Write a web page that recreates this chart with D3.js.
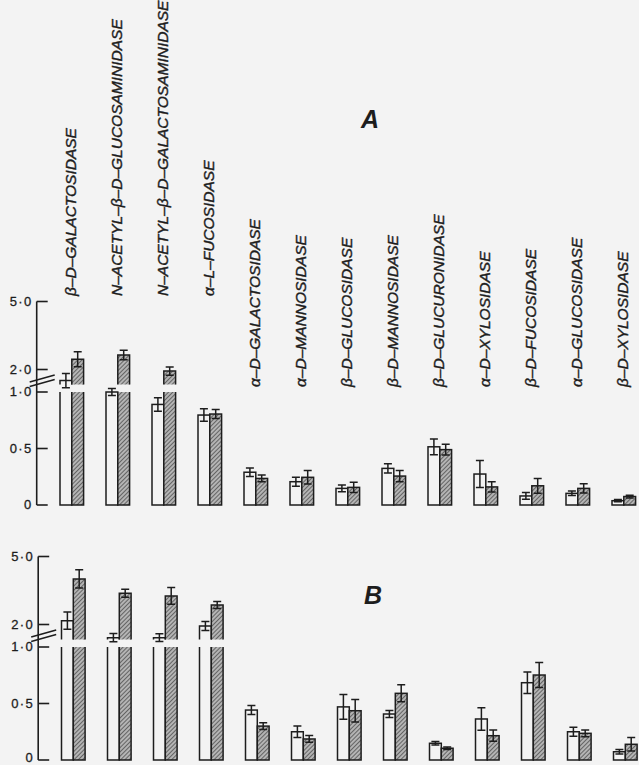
<!DOCTYPE html>
<html>
<head>
<meta charset="utf-8">
<script src="https://cdn.jsdelivr.net/npm/d3@7"></script>
<style>
  body { margin: 0; background: #f3f3f3; }
  svg { display: block; }
</style>
</head>
<body>
<svg id="chart" width="639" height="765"></svg>
<script>
// Glycosidase activities: open bars = control, hatched bars = treated
const enzymes = [
  "β–D–GALACTOSIDASE",
  "N–ACETYL–β–D–GLUCOSAMINIDASE",
  "N–ACETYL–β–D–GALACTOSAMINIDASE",
  "α–L–FUCOSIDASE",
  "α–D–GALACTOSIDASE",
  "α–D–MANNOSIDASE",
  "β–D–GLUCOSIDASE",
  "β–D–MANNOSIDASE",
  "β–D–GLUCURONIDASE",
  "α–D–XYLOSIDASE",
  "β–D–FUCOSIDASE",
  "α–D–GLUCOSIDASE",
  "β–D–XYLOSIDASE"
];

const controlA     = [1.51, 1.00, 0.89, 0.796, 0.29, 0.206, 0.147, 0.324, 0.515, 0.274, 0.08, 0.103, 0.038];
const controlErrA  = [0.31, 0.03, 0.06, 0.055, 0.037, 0.04, 0.03, 0.04, 0.07, 0.12, 0.03, 0.02, 0.01];
const treatedA     = [2.45, 2.64, 1.93, 0.805, 0.235, 0.245, 0.156, 0.256, 0.49, 0.16, 0.17, 0.147, 0.075];
const treatedErrA  = [0.33, 0.21, 0.18, 0.04, 0.03, 0.06, 0.045, 0.05, 0.048, 0.045, 0.065, 0.04, 0.012];

const controlB     = [2.17, 1.42, 1.42, 1.93, 0.442, 0.25, 0.47, 0.407, 0.148, 0.363, 0.684, 0.25, 0.073];
const controlErrB  = [0.38, 0.18, 0.17, 0.2, 0.04, 0.05, 0.11, 0.03, 0.015, 0.1, 0.095, 0.04, 0.02];
const treatedB     = [4.01, 3.38, 3.26, 2.86, 0.30, 0.186, 0.436, 0.59, 0.104, 0.215, 0.752, 0.236, 0.139];
const treatedErrB  = [0.4, 0.18, 0.37, 0.15, 0.03, 0.03, 0.1, 0.075, 0.012, 0.05, 0.11, 0.03, 0.06];

const lowerTicks = [0, 0.5, 1.0];
const upperTicks = [2.0, 5.0];
const tickText = v => v === 0 ? "0" : d3.format(".1f")(v).replace(".", "·");

const panelNames = ["A", "B"];

const ink = "#1d1d1d";
const svg = d3.select("#chart");
const H = +svg.attr("height");

// hatch pattern for treated bars
const defs = svg.append("defs");
const pat = defs.append("pattern")
  .attr("id", "hatch")
  .attr("patternUnits", "userSpaceOnUse")
  .attr("width", 3).attr("height", 3)
  .attr("patternTransform", "rotate(45)");
pat.append("rect").attr("width", 3).attr("height", 3).attr("fill", "#b4b4b4");
pat.append("line").attr("x1", 0).attr("y1", 0).attr("x2", 0).attr("y2", 3)
  .attr("stroke", "#2e2e2e").attr("stroke-width", 1.2);

const x = d3.scaleBand()
  .domain(enzymes)
  .range([60, 60 + 12 * 46 + 23.6])
  .paddingInner(0.487)
  .paddingOuter(0);
const xs = d3.scaleBand().domain(["control", "treated"]).range([0, x.bandwidth()]);

const panels = [
  { name: panelNames[0], base: 505, dx: 0, series: [
      { key: "control", vals: controlA, errs: controlErrA },
      { key: "treated", vals: treatedA, errs: treatedErrA } ],
    letter: [361, 128] },
  { name: panelNames[1], base: 760, dx: 1.5, series: [
      { key: "control", vals: controlB, errs: controlErrB },
      { key: "treated", vals: treatedB, errs: treatedErrB } ],
    letter: [364, 604] }
];

panels.forEach(p => {
  const g = svg.append("g").attr("transform", `translate(${p.dx},0)`);
  const yLow = d3.scaleLinear().domain([0, 1]).range([p.base, p.base - 113]);
  const y2 = p.base - 113 - 22.5;
  const yHigh = d3.scaleLinear().domain([2, 5]).range([y2, y2 - 68]);
  const breakTop = yLow(1);          // top of lower segment
  const breakBot = yLow(1) - 7.5;    // bottom of upper segment
  const axisX = 36.7;

  // axis line
  g.append("line")
    .attr("x1", axisX).attr("x2", axisX)
    .attr("y1", yHigh(5)).attr("y2", p.base)
    .attr("stroke", ink).attr("stroke-width", 1.6);

  // ticks
  const tickData = lowerTicks.map(v => ({ v, y: yLow(v) }))
    .concat(upperTicks.map(v => ({ v, y: yHigh(v) })));
  g.selectAll(".tick").data(tickData).join("line")
    .attr("x1", axisX).attr("x2", axisX + 11)
    .attr("y1", d => d.y).attr("y2", d => d.y)
    .attr("stroke", ink).attr("stroke-width", 1.6);
  g.selectAll(".tlab").data(tickData).join("text")
    .attr("x", axisX - 4)
    .attr("y", d => Math.min(d.y + 4, H - 3))
    .attr("text-anchor", "end")
    .attr("font-family", "Liberation Sans, Arial, sans-serif")
    .attr("font-size", 13)
    .attr("letter-spacing", 1.4)
    .attr("fill", ink)
    .attr("stroke", ink).attr("stroke-width", 0.3)
    .text(d => tickText(d.v));

  // axis break marks
  const c = breakTop - 12;
  [0, 4.5].forEach(off => {
    g.append("line")
      .attr("x1", axisX - 7).attr("y1", c + 2 + off)
      .attr("x2", axisX + 18).attr("y2", c - 5 + off)
      .attr("stroke", ink).attr("stroke-width", 1.5);
  });

  // bars
  p.series.forEach(s => {
    const fill = s.key === "treated" ? "url(#hatch)" : "none";
    enzymes.forEach((e, i) => {
      const v = s.vals[i], err = s.errs[i];
      const x0 = x(e) + xs(s.key), w = xs.bandwidth();
      const x1 = x0 + w;
      if (v <= 1) {
        g.append("rect")
          .attr("x", x0).attr("y", yLow(v))
          .attr("width", w).attr("height", p.base - yLow(v))
          .attr("fill", fill).attr("stroke", ink).attr("stroke-width", 1.5);
      } else {
        // lower piece (open at the break)
        g.append("rect")
          .attr("x", x0).attr("y", breakTop)
          .attr("width", w).attr("height", p.base - breakTop)
          .attr("fill", fill).attr("stroke", "none");
        g.append("path")
          .attr("d", `M${x0},${breakTop}V${p.base}H${x1}V${breakTop}`)
          .attr("fill", "none").attr("stroke", ink).attr("stroke-width", 1.5);
        // upper piece (open at the break)
        const yt = yHigh(v);
        g.append("rect")
          .attr("x", x0).attr("y", yt)
          .attr("width", w).attr("height", Math.max(0, breakBot - yt))
          .attr("fill", fill).attr("stroke", "none");
        g.append("path")
          .attr("d", `M${x0},${breakBot}V${yt}H${x1}V${breakBot}`)
          .attr("fill", "none").attr("stroke", ink).attr("stroke-width", 1.5);
      }
      // error bar
      const ys = v <= 1 ? yLow : yHigh;
      const cx = x0 + w / 2;
      const ya = ys(v + err), yb = ys(Math.max(0, v - err));
      g.append("path")
        .attr("d", `M${cx},${ya}V${yb}M${cx - 4},${ya}H${cx + 4}M${cx - 4},${yb}H${cx + 4}`)
        .attr("fill", "none").attr("stroke", ink).attr("stroke-width", 1.5);
    });
  });

  // panel letter
  svg.append("text")
    .attr("x", p.letter[0]).attr("y", p.letter[1])
    .attr("font-family", "Liberation Sans, Arial, sans-serif")
    .attr("font-size", 25).attr("font-style", "italic").attr("font-weight", "bold")
    .attr("fill", ink)
    .text(p.name);
});

// enzyme names, vertical above panel A
svg.selectAll(".name").data(enzymes).join("text")
  .attr("transform", (d, i) => {
    const tx = x(d) + x.bandwidth() / 2 + 4.5;
    const ty = i < 4 ? 296 : 387;
    return `translate(${tx},${ty}) rotate(-90)`;
  })
  .attr("font-family", "Liberation Sans, Arial, sans-serif")
  .attr("font-size", 15.5)
  .attr("font-style", "italic")
  .attr("fill", ink)
  .attr("stroke", ink).attr("stroke-width", 0.4)
  .text(d => d);
</script>
</body>
</html>
